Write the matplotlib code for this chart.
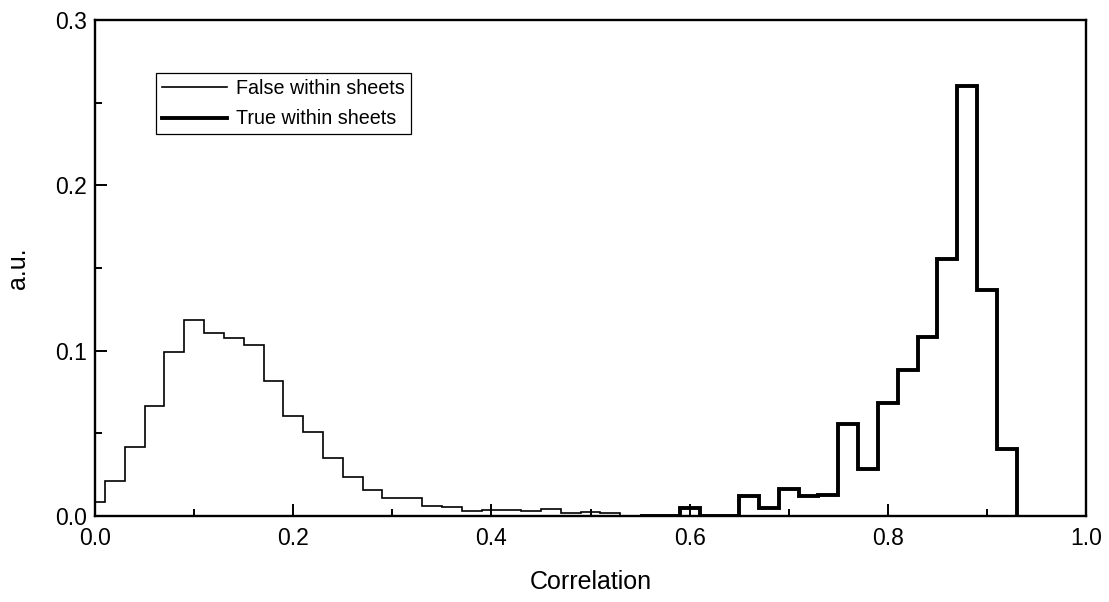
import numpy as np
import matplotlib
matplotlib.use('Agg')
import matplotlib.pyplot as plt
from matplotlib.ticker import MultipleLocator, FormatStrFormatter

# histogram bins (bin centres, width 0.02)
false_centers = np.round(np.arange(0.00, 0.53, 0.02), 2)
false_values = [0.0083, 0.0213, 0.0418, 0.0666, 0.0994, 0.1183, 0.1106, 0.1076,
                0.1036, 0.0817, 0.0603, 0.0507, 0.0348, 0.0237, 0.0160, 0.0106,
                0.0106, 0.0063, 0.0053, 0.0032, 0.0038, 0.0035, 0.0030, 0.0042,
                0.0016, 0.0022, 0.0016]

true_centers = np.round(np.arange(0.56, 0.93, 0.02), 2)
true_values = [0.0, 0.0, 0.0047, 0.0, 0.0, 0.0123, 0.0047, 0.0163, 0.0123,
               0.0125, 0.0559, 0.0284, 0.0686, 0.0881, 0.1082, 0.1555, 0.2601,
               0.1364, 0.0404]

bin_w = 0.02

def edges_of(centers):
    c = np.asarray(centers)
    return np.append(c - bin_w / 2, c[-1] + bin_w / 2)

plt.rcParams['font.family'] = ['Liberation Sans', 'DejaVu Sans']

fig = plt.figure(figsize=(11.09, 6.02), dpi=100)
ax = fig.add_axes([0.0857, 0.1429, 0.9793 - 0.0857, 0.9668 - 0.1429])

ax.stairs(false_values, edges_of(false_centers), color='black', linewidth=1.2,
          label='False within sheets')
ax.stairs(true_values, edges_of(true_centers), color='black', linewidth=2.8,
          label='True within sheets')

ax.set_xlim(0.0, 1.0)
ax.set_ylim(0.0, 0.3)
ax.xaxis.set_major_locator(MultipleLocator(0.2))
ax.xaxis.set_minor_locator(MultipleLocator(0.1))
ax.yaxis.set_major_locator(MultipleLocator(0.1))
ax.yaxis.set_minor_locator(MultipleLocator(0.05))
ax.xaxis.set_major_formatter(FormatStrFormatter('%.1f'))
ax.yaxis.set_major_formatter(FormatStrFormatter('%.1f'))

ax.tick_params(which='both', direction='in', top=False, right=False, width=1.4)
ax.tick_params(which='major', length=8.5, labelsize=16.5)
ax.tick_params(which='minor', length=5)
ax.tick_params(axis='x', which='major', pad=8)
ax.tick_params(axis='y', which='major', pad=6)
for s in ax.spines.values():
    s.set_linewidth(1.7)

ax.set_xlabel('Correlation', fontsize=18, labelpad=14)
ax.set_ylabel('a.u.', fontsize=18, labelpad=18)

leg = ax.legend(loc='upper left', bbox_to_anchor=(0.0616, 0.893), borderaxespad=0,
                fontsize=14.2, frameon=True, fancybox=False, framealpha=1,
                edgecolor='black', handlelength=3.3, handletextpad=0.45,
                labelspacing=0.58, borderpad=0.3)
leg.get_frame().set_linewidth(0.9)

fig.savefig('out.png', dpi=100)
